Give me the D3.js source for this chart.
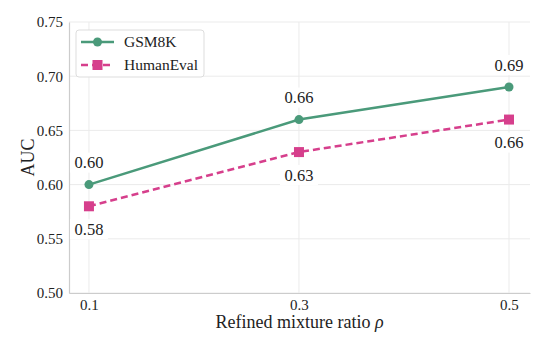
<!DOCTYPE html>
<html>
<head>
<meta charset="utf-8">
<script src="https://cdn.jsdelivr.net/npm/d3@7"></script>
<style>
  body { margin: 0; background: #fff; }
</style>
</head>
<body>
<svg id="chart" width="547" height="353"></svg>
<script>
const ratios = [0.1, 0.3, 0.5];
const gsm8k = [0.60, 0.66, 0.69];
const humanEval = [0.58, 0.63, 0.66];
const yTicks = [0.50, 0.55, 0.60, 0.65, 0.70, 0.75];

const plotLeft = 69, plotRight = 530, plotTop = 22, plotBottom = 293;
const serif = "'Liberation Serif', 'DejaVu Serif', serif";

const svg = d3.select("#chart").attr("font-family", serif);

const x = d3.scaleLinear().domain([0.081, 0.52]).range([plotLeft, plotRight]);
const y = d3.scaleLinear().domain([0.5, 0.75]).range([plotBottom, plotTop]);

// grid lines
svg.append("g")
  .selectAll("line")
  .data(yTicks)
  .join("line")
  .attr("x1", plotLeft).attr("x2", plotRight)
  .attr("y1", d => y(d)).attr("y2", d => y(d))
  .attr("stroke", "#ebebeb").attr("stroke-width", 1);

svg.append("g")
  .selectAll("line")
  .data(ratios)
  .join("line")
  .attr("x1", d => x(d)).attr("x2", d => x(d))
  .attr("y1", plotTop).attr("y2", plotBottom)
  .attr("stroke", "#ebebeb").attr("stroke-width", 1);

// axes (no tick marks, light spines)
const yAxis = svg.append("g")
  .attr("transform", `translate(${plotLeft},0)`)
  .call(d3.axisLeft(y).tickValues(yTicks).tickFormat(d3.format(".2f")).tickSize(0).tickPadding(6))
  .attr("font-family", serif).attr("font-size", 15);
yAxis.select(".domain").attr("stroke", "#cccccc").attr("stroke-width", 1.2);
yAxis.selectAll("text").attr("fill", "#222");

const xAxis = svg.append("g")
  .attr("transform", `translate(0,${plotBottom})`)
  .call(d3.axisBottom(x).tickValues(ratios).tickFormat(d3.format(".1f")).tickSize(0).tickPadding(6))
  .attr("font-family", serif).attr("font-size", 15);
xAxis.select(".domain").attr("stroke", "#cccccc").attr("stroke-width", 1.2);
xAxis.selectAll("text").attr("fill", "#222");

// axis titles
svg.append("text")
  .attr("x", (plotLeft + plotRight) / 2).attr("y", 328)
  .attr("text-anchor", "middle").attr("font-size", 18).attr("fill", "#222")
  .text("Refined mixture ratio ")
  .append("tspan").attr("font-style", "italic").text("ρ");

svg.append("text")
  .attr("transform", `translate(34,${(plotTop + plotBottom) / 2}) rotate(-90)`)
  .attr("text-anchor", "middle").attr("font-size", 18).attr("fill", "#222")
  .text("AUC");

const series = [
  { name: "GSM8K", values: gsm8k, color: "#4a9a7a", dash: null, marker: "circle", dy: -22 },
  { name: "HumanEval", values: humanEval, color: "#d63f8c", dash: "7,4", marker: "square", dy: 23 }
];

const line = d3.line().x((d, i) => x(ratios[i])).y(d => y(d));

series.forEach(s => {
  svg.append("path")
    .attr("d", line(s.values))
    .attr("fill", "none")
    .attr("stroke", s.color)
    .attr("stroke-width", 2.5)
    .attr("stroke-dasharray", s.dash);

  if (s.marker === "circle") {
    svg.append("g").selectAll("circle")
      .data(s.values).join("circle")
      .attr("cx", (d, i) => x(ratios[i])).attr("cy", d => y(d))
      .attr("r", 4.5).attr("fill", s.color);
  } else {
    svg.append("g").selectAll("rect")
      .data(s.values).join("rect")
      .attr("x", (d, i) => x(ratios[i]) - 5).attr("y", d => y(d) - 5)
      .attr("width", 10).attr("height", 10).attr("fill", s.color);
  }

  // value labels with white boxes
  const lab = svg.append("g").selectAll("g")
    .data(s.values).join("g")
    .attr("transform", (d, i) => `translate(${x(ratios[i])},${y(d) + s.dy})`);
  lab.append("rect")
    .attr("x", -19).attr("y", -10).attr("width", 38).attr("height", 20)
    .attr("fill", "#fff");
  lab.append("text")
    .attr("text-anchor", "middle").attr("dy", "0.35em")
    .attr("font-size", 16.5).attr("fill", "#222")
    .text(d => d3.format(".2f")(d));
});

// legend
const legend = svg.append("g").attr("transform", "translate(76,30)");
legend.append("rect")
  .attr("width", 128).attr("height", 47).attr("rx", 3)
  .attr("fill", "#fff").attr("stroke", "#dddddd");

series.forEach((s, i) => {
  const ly = 12 + i * 23;
  legend.append("line")
    .attr("x1", 5).attr("x2", 38).attr("y1", ly).attr("y2", ly)
    .attr("stroke", s.color).attr("stroke-width", 2.5)
    .attr("stroke-dasharray", s.dash);
  if (s.marker === "circle") {
    legend.append("circle").attr("cx", 21.5).attr("cy", ly).attr("r", 4.5).attr("fill", s.color);
  } else {
    legend.append("rect").attr("x", 16.5).attr("y", ly - 5).attr("width", 10).attr("height", 10).attr("fill", s.color);
  }
  legend.append("text")
    .attr("x", 48).attr("y", ly).attr("dy", "0.35em")
    .attr("font-size", 15.5).attr("fill", "#222")
    .text(s.name);
});
</script>
</body>
</html>
